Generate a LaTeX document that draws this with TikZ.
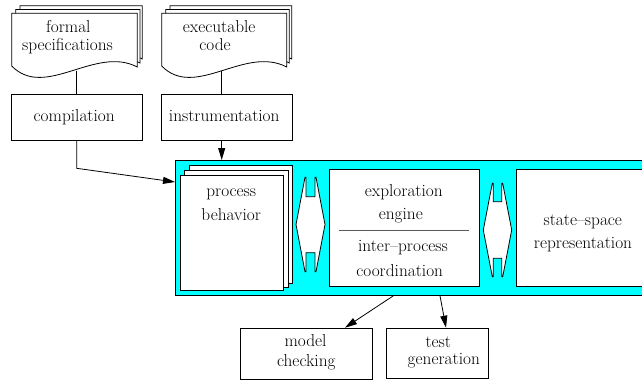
\documentclass[tikz,border=0pt]{standalone}
\usetikzlibrary{arrows.meta,calc}
\definecolor{aqua}{RGB}{0,255,255}
\newcommand\docpage[4]{%
  \filldraw[fill=white] (#1,#4) -- (#1,#2) -- (#3,#2) -- (#3,{#4+1})
    .. controls ({#1+0.664*(#3-#1)},{#4-21}) and ({#1+0.267*(#3-#1)},{#4+34}) .. (#1,#4) -- cycle;}
\begin{document}
\begin{tikzpicture}[x=1pt,y=-1pt,line width=0.8pt,
  txt/.style={font=\rmfamily\fontsize{17.3}{20}\selectfont, anchor=base, inner sep=0pt},
  box/.style={draw, fill=white, inner sep=0pt, anchor=north west},
  openbox/.style={fill=white, inner sep=0pt, anchor=north west},
  arr/.style={-{Triangle[length=12pt,width=7pt]}}]
\useasboundingbox (0,0) rectangle (642,381);

% source documents
\docpage{20}{5.7}{142.3}{58}
\docpage{15.7}{9.5}{140}{62}
\docpage{11.7}{13.3}{137.3}{66}
\docpage{170}{5.7}{291.7}{58}
\docpage{165.7}{9.5}{289.3}{62}
\docpage{161.7}{13.3}{286.7}{66}
\coordinate (fdoc) at (76.7,70.5);
\coordinate (edoc) at (221.7,70.5);
\node[txt] (t1) at (68.3,32.3) {formal};
\node[txt] (t2) at (67.5,50.7) {specifications};
\node[txt] (t3) at (219.2,32.3) {executable};
\node[txt] (t4) at (215,50.7) {code};

% transformation boxes
\node[box, minimum width=131pt, minimum height=46pt] (comp) at (11,94) {};
\node[box, minimum width=131pt, minimum height=46pt] (instr) at (161,94) {};
\node[txt] (t5) at (74.2,121.7) {compilation};
\node[txt] (t6) at (224.2,121.7) {instrumentation};

% main frame (runs off the right edge)
\node[fill=aqua, anchor=north west, inner sep=0pt, minimum width=467pt, minimum height=135pt] (frame) at (175,160) {};
\draw (frame.north east) -- (frame.north west) -- (frame.south west) -- (frame.south east);

% process behavior pages
\node[box, minimum width=102.4pt, minimum height=118.3pt] (pb3) at (189.3,165) {};
\node[box, minimum width=103.4pt, minimum height=117pt] (pb2) at (184.3,169.7) {};
\node[box, minimum width=102.7pt, minimum height=115pt] (pb1) at (180,175) {};
\node[txt] (t7) at (231.2,196.7) {process};
\node[txt] (t8) at (231.2,220) {behavior};

% exploration engine
\node[box, minimum width=150pt, minimum height=117pt] (eng) at (329,169) {};
\draw[black!65] (339,230) -- (469,230);
\node[txt] (t9) at (403.8,196.7) {exploration};
\node[txt] (t10) at (400.8,219.3) {engine};
\node[txt] (t11) at (403,251.7) {inter--process};
\node[txt] (t12) at (399.7,276) {coordination};

% state space (runs off the right edge)
\node[openbox, minimum width=126pt, minimum height=117pt] (ss) at (516,169) {};
\draw (ss.north east) -- (ss.north west) -- (ss.south west) -- (ss.south east);
\node[txt] (t13) at (582.8,225) {state--space};
\node[txt] (t14) at (583,248.3) {representation};

% double arrows
\filldraw[fill=white] (305,177.3) -- (296,224.5) -- (305,271.7) -- (306,271.7) -- (306,252.7) -- (315,252.7) -- (315,271.7) -- (316,271.7) -- (325,224.5) -- (316,177.3) -- (315,177.3) -- (315,196.7) -- (306,196.7) -- (306,177.3) -- cycle;
\filldraw[fill=white] (492.3,183.3) -- (483.3,230) -- (492.3,276.7) -- (493.3,276.7) -- (493.3,258.3) -- (501.7,258.3) -- (501.7,276.7) -- (502.7,276.7) -- (511.7,230) -- (502.7,183.3) -- (501.7,183.3) -- (501.7,201.7) -- (493.3,201.7) -- (493.3,183.3) -- cycle;

% result boxes
\node[box, minimum width=131.7pt, minimum height=51.6pt] (mc) at (240,327.7) {};
\node[box, minimum width=102.6pt, minimum height=50.6pt] (tg) at (385.7,327.7) {};
\node[txt] (t15) at (305.5,346.7) {model};
\node[txt] (t16) at (306.3,366.7) {checking};
\node[txt] (t17) at (438.3,347.3) {test};
\node[txt] (t18) at (443.8,364) {generation};

% connectors
\draw (fdoc) -- (fdoc |- comp.north);
\draw (edoc) -- (edoc |- instr.north);
\coordinate (bend) at (76.7,168.3);
\draw[arr] (fdoc |- comp.south) -- (bend) -- ($(frame.north west)+(0,22)$);
\draw[arr] (edoc |- instr.south) -- (edoc |- frame.north);
\draw[arr] ($(frame.south west)+(218.3,0)$) -- ($(mc.north west)+(105,0)$);
\draw[arr] ($(frame.south west)+(265,0)$) -- ($(tg.north west)+(60.3,0)$);
\end{tikzpicture}
\end{document}
